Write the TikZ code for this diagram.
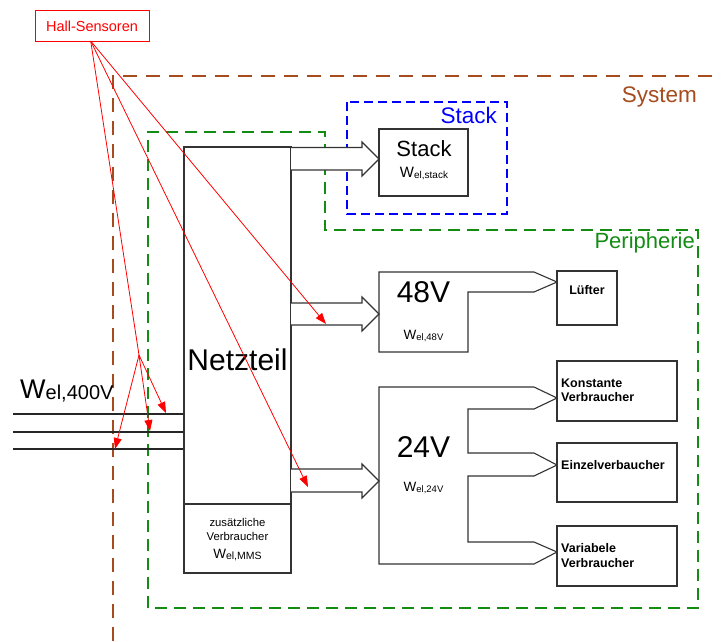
\documentclass[tikz,border=0pt]{standalone}
\usepackage{fontspec}
\setmainfont{Liberation Sans}
\usetikzlibrary{arrows.meta}
\newcommand\fsz[1]{\fontsize{#1}{#1}\selectfont}
\newcommand\Wel[3]{{\fsz{#1}W}\raisebox{-1.5pt}{\fsz{#2}#3}}
\definecolor{sysbrown}{RGB}{165,75,30}
\definecolor{perigreen}{RGB}{20,140,20}
\definecolor{stackblue}{RGB}{0,0,255}
\begin{document}
\begin{tikzpicture}[x=1pt,y=-1pt,
  box/.style={draw=black!80, line width=1.1pt, fill=white},
  wire/.style={draw=black!85, line width=1.2pt},
  sysframe/.style={draw=sysbrown, line width=1.4pt, dash pattern=on 14pt off 9pt},
  periframe/.style={draw=perigreen, line width=1.4pt, dash pattern=on 12pt off 7pt},
  stackframe/.style={draw=stackblue, line width=1.4pt, dash pattern=on 9pt off 5pt},
  sensor/.style={draw=red, line width=0.8pt},
  sensorarrow/.style={sensor, -{Triangle[length=11pt,width=8pt]}},
  lbl/.style={inner sep=0pt, anchor=base},
  bold/.style={inner sep=0pt, anchor=base west, font=\fsz{12.5}\bfseries, align=left},
]
\useasboundingbox (0,0) rectangle (721,641);

% frames
\draw[sysframe] (113,641) -- (113,76) -- (721,76);
\draw[periframe] (148,608) -- (148,132) -- (325,132) -- (325,230) -- (698,230) -- (698,608) -- cycle;
\draw[stackframe] (347,102) rectangle (507,214);
\node[lbl, anchor=base east, text=sysbrown, font=\fsz{22.5}] (systxt) at (697,102) {System};
\node[lbl, anchor=base east, text=perigreen, font=\fsz{22}] (peritxt) at (695,248) {Peripherie};
\node[lbl, anchor=base east, text=stackblue, font=\fsz{22.5}] (stacktxt) at (497,123) {Stack};

% input lines
\coordinate (in1) at (13,414);
\coordinate (in2) at (13,432);
\coordinate (in3) at (13,449);
\node[lbl, anchor=base west] (w400) at (20,398) {\Wel{27}{20}{el,400V}};

% Netzteil
\node[box, minimum width=107pt, minimum height=426pt, inner sep=0pt] (netz) at (237.5,360) {};
\draw[wire] (in1) -- (in1 -| netz.west);
\draw[wire] (in2) -- (in2 -| netz.west);
\draw[wire] (in3) -- (in3 -| netz.west);
\coordinate (divl) at (184,504);
\coordinate (divr) at (291,504);
\draw[box] (divl) -- (divr);
\node[lbl, font=\fsz{30}] (netztxt) at (237.5,370) {Netzteil};
\node[lbl, font=\fsz{11.3}] (zus1) at (237.5,526) {zusätzliche};
\node[lbl, font=\fsz{11.3}] (zus2) at (237.5,540) {Verbraucher};
\node[lbl] (zus3) at (237.5,558) {\Wel{13.5}{10.5}{el,MMS}};

% Stack box
\node[box, minimum width=89pt, minimum height=67pt, inner sep=0pt] (stack) at (423.5,162.5) {};
\node[lbl, font=\fsz{22}] (stacklbl) at (424,156) {Stack};
\node[lbl] (stackw) at (424,177) {\Wel{15}{10}{el,stack}};

% 48V shape
\draw[box] (379,272) -- (534,272) -- (557,282) -- (534,292) -- (468,292) -- (468,352) -- (379,352) -- cycle;
\node[lbl, font=\fsz{30}] (v48) at (423.5,302) {48V};
\node[lbl] (w48) at (423.5,339) {\Wel{13.5}{9.5}{el,48V}};
\node[box, minimum width=60pt, minimum height=54pt, inner sep=0pt] (luefter) at (587,298) {};
\node[lbl, font=\fsz{12.5}\bfseries] (lueftxt) at (587,294) {Lüfter};

% 24V shape
\draw[box] (379,387) -- (534,387) -- (557,398) -- (534,409) -- (468,409) -- (468,453) -- (534,453) -- (557,465) -- (534,476) -- (468,476) -- (468,542) -- (534,542) -- (557,552) -- (534,564) -- (379,564) -- cycle;
\node[lbl, font=\fsz{30}] (v24) at (423.5,457) {24V};
\node[lbl] (w24) at (423.5,491) {\Wel{13.5}{9.5}{el,24V}};
\node[box, minimum width=120pt, minimum height=60pt, inner sep=0pt] (konst) at (617,391) {};
\node[bold] (konsttxt) at (561,387) {Konstante};
\node[bold] (konsttxt2) at (561,401) {Verbraucher};
\node[box, minimum width=120pt, minimum height=59pt, inner sep=0pt] (einzel) at (617,472.5) {};
\node[bold] (einzeltxt) at (561,469) {Einzelverbaucher};
\node[box, minimum width=120pt, minimum height=60pt, inner sep=0pt] (variab) at (617,556) {};
\node[bold] (variabtxt) at (561,552) {Variabele};
\node[bold] (variabtxt2) at (561,567) {Verbraucher};

% hollow power arrows
\draw[box] (291,147.5) -- (362,147.5) -- (362,142) -- (379,159) -- (362,176) -- (362,170) -- (291,170);
\draw[box] (291,303) -- (362,303) -- (362,297) -- (379,314) -- (362,331) -- (362,325) -- (291,325);
\draw[box] (291,469) -- (362,469) -- (362,464) -- (379,481) -- (362,498) -- (362,492) -- (291,492);

% Hall sensors
\node[draw=red, line width=0.8pt, text=red, font=\fsz{14.5}, minimum width=114pt, minimum height=31pt, inner sep=0pt] (hall) at (92,26) {Hall-Sensoren};
\coordinate (hs) at (90.7,41);
\coordinate (br) at (139,355);
\coordinate (t1) at (115,449);
\coordinate (t2) at (150,431);
\coordinate (t3) at (166,413);
\coordinate (t4) at (326,324);
\coordinate (t5) at (308,487);
\draw[sensor] (hs) -- (br);
\draw[sensorarrow] (br) -- (t1);
\draw[sensorarrow] (br) -- (t2);
\draw[sensorarrow] (br) -- (t3);
\draw[sensorarrow] (hs) -- (t4);
\draw[sensorarrow] (hs) -- (t5);
\end{tikzpicture}
\end{document}
